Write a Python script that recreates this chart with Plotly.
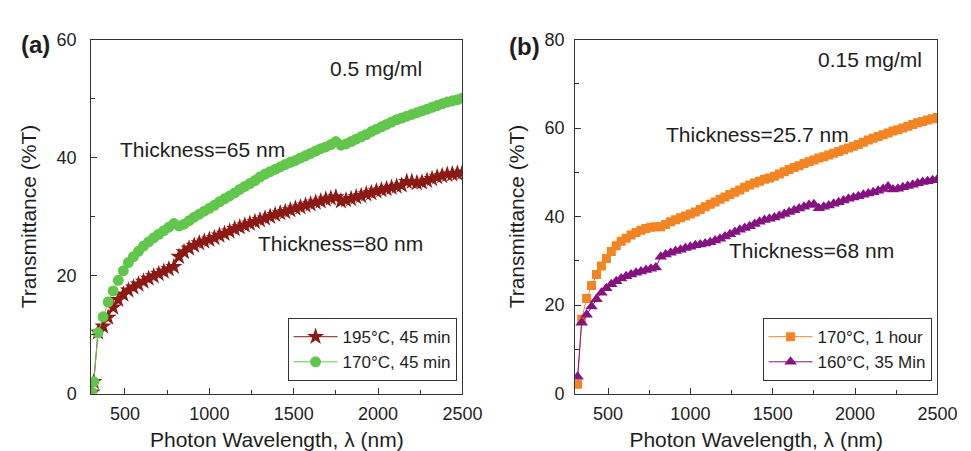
import plotly.graph_objects as go

# ---------------- data ----------------
wl_a = [305, 315, 340, 370, 400, 430, 460, 490, 520, 550,
        580, 610, 640, 670, 700, 730, 760, 790, 820, 850,
        880, 910, 940, 970, 1000, 1030, 1060, 1090, 1120, 1150,
        1180, 1210, 1240, 1270, 1300, 1330, 1360, 1390, 1420, 1450,
        1480, 1510, 1540, 1570, 1600, 1630, 1660, 1690, 1720, 1750,
        1780, 1810, 1840, 1870, 1900, 1930, 1960, 1990, 2020, 2050,
        2080, 2110, 2140, 2170, 2200, 2230, 2260, 2290, 2320, 2350,
        2380, 2410, 2440, 2470, 2500]
wl_b = wl_a[1:]

t_195_45 = [0.2, 2.0, 10.4, 11.4, 12.9, 14.6, 15.9, 16.8, 17.5, 18.0,
            18.5, 19.0, 19.5, 19.9, 20.3, 20.7, 21.1, 21.5, 23.2, 24.0,
            24.6, 25.1, 25.5, 25.8, 26.1, 26.4, 26.8, 27.1, 27.5, 27.9,
            28.2, 28.5, 28.8, 29.1, 29.4, 29.7, 30.0, 30.3, 30.6, 30.8,
            31.1, 31.4, 31.6, 31.9, 32.1, 32.4, 32.6, 32.9, 33.1, 33.3,
            32.6, 32.8, 33.0, 33.3, 33.5, 33.8, 34.0, 34.3, 34.5, 34.7,
            34.9, 35.1, 35.3, 35.9, 35.9, 35.7, 35.8, 36.1, 36.4, 36.7,
            36.9, 37.1, 37.2, 37.3, 37.5]

t_170_45 = [0.2, 2.0, 10.3, 13.0, 15.5, 17.4, 19.2, 20.8, 22.2, 23.2,
            24.1, 25.0, 25.7, 26.4, 27.0, 27.6, 28.2, 28.8, 28.4, 28.7,
            29.3, 29.9, 30.4, 30.9, 31.4, 31.9, 32.5, 33.0, 33.5, 34.0,
            34.6, 35.1, 35.6, 36.1, 36.7, 37.2, 37.6, 38.0, 38.4, 38.8,
            39.2, 39.5, 39.9, 40.3, 40.7, 41.1, 41.5, 41.8, 42.2, 42.7,
            42.1, 42.3, 42.7, 43.1, 43.5, 43.9, 44.4, 44.8, 45.2, 45.6,
            46.0, 46.4, 46.7, 47.0, 47.3, 47.6, 47.9, 48.2, 48.5, 48.8,
            49.1, 49.4, 49.6, 49.8, 50.1]

t_170_1h = [2.1, 16.8, 21.5, 24.4, 26.9, 28.8, 30.5, 32.1, 33.4,
            34.4, 35.1, 35.8, 36.4, 36.9, 37.3, 37.6, 37.7, 37.7, 38.2,
            38.8, 39.3, 39.7, 40.1, 40.6, 41.0, 41.6, 42.2, 42.8, 43.3,
            43.9, 44.4, 45.0, 45.5, 46.0, 46.6, 47.1, 47.6, 48.0, 48.4,
            48.7, 49.1, 49.6, 50.1, 50.6, 51.1, 51.5, 52.0, 52.4, 52.8,
            53.2, 53.5, 53.9, 54.3, 54.7, 55.1, 55.5, 55.9, 56.3, 56.8,
            57.3, 57.7, 58.1, 58.5, 58.9, 59.3, 59.6, 60.0, 60.4, 60.8,
            61.2, 61.5, 61.8, 62.1, 62.4]

t_160_35 = [3.8, 16.0, 17.8, 19.7, 21.3, 22.8, 23.8, 24.7, 25.4,
            26.0, 26.5, 26.9, 27.3, 27.6, 27.9, 28.2, 28.5, 30.9, 31.4,
            31.8, 32.2, 32.5, 32.9, 33.2, 33.5, 33.7, 33.9, 34.2, 34.6,
            35.0, 35.5, 36.0, 36.5, 37.0, 37.4, 37.8, 38.3, 38.8, 39.2,
            39.5, 39.8, 40.2, 40.6, 41.0, 41.4, 41.8, 42.2, 42.6, 42.8,
            41.9, 42.2, 42.5, 42.9, 43.2, 43.6, 44.0, 44.3, 44.6, 44.9,
            45.2, 45.5, 45.8, 46.2, 46.8, 46.1, 46.3, 46.6, 46.9, 47.2,
            47.5, 47.8, 48.0, 48.2, 48.4]

x_ticks = [500, 1000, 1500, 2000, 2500]

# ---------------- styling ----------------
FONT = "Liberation Sans, Arial, sans-serif"
TXT = "#1e1e1e"
AX = "#333333"
RED = "#8B1A14"
GREEN = "#62C64C"
ORANGE = "#F28424"
PURPLE = "#84137F"

fig = go.Figure()

fig.add_trace(go.Scatter(x=wl_a, y=t_195_45, mode="lines+markers", name="195°C, 45 min",
                         line=dict(color=RED, width=1),
                         marker=dict(symbol="star", size=13, color=RED),
                         xaxis="x", yaxis="y", legend="legend"))
fig.add_trace(go.Scatter(x=wl_a, y=t_170_45, mode="lines+markers", name="170°C, 45 min",
                         line=dict(color=GREEN, width=1),
                         marker=dict(symbol="circle", size=11, color=GREEN),
                         xaxis="x", yaxis="y", legend="legend"))
fig.add_trace(go.Scatter(x=wl_b, y=t_170_1h, mode="lines+markers", name="170°C, 1 hour",
                         line=dict(color=ORANGE, width=1),
                         marker=dict(symbol="square", size=9, color=ORANGE),
                         xaxis="x2", yaxis="y2", legend="legend2"))
fig.add_trace(go.Scatter(x=wl_b, y=t_160_35, mode="lines+markers", name="160°C, 35 Min",
                         line=dict(color=PURPLE, width=1),
                         marker=dict(symbol="triangle-up", size=11, color=PURPLE),
                         xaxis="x2", yaxis="y2", legend="legend2"))

W, H = 971, 451

def px_x(p):
    return p / W

def px_y(p):
    return (H - p) / H

xa = dict(range=[300, 2500], tickvals=x_ticks, ticks="inside", ticklen=6, tickcolor=AX,
          showline=True, linecolor=AX, linewidth=1, mirror=True, showgrid=False, zeroline=False,
          tickfont=dict(size=18, color=TXT, family=FONT),
          title=dict(text="Photon Wavelength, λ (nm)", font=dict(size=21, color=TXT, family=FONT), standoff=9),
          minor=dict(dtick=250, tick0=0, ticks="inside", ticklen=4, tickcolor=AX, showgrid=False),
          ticklabelstandoff=4)
ya = dict(ticks="inside", ticklen=6, tickcolor=AX, dtick=20,
          showline=True, linecolor=AX, linewidth=1, mirror=True, showgrid=False, zeroline=False,
          tickfont=dict(size=18, color=TXT, family=FONT),
          title=dict(text="Transmittance (%T)", font=dict(size=21, color=TXT, family=FONT), standoff=14),
          minor=dict(dtick=10, ticks="inside", ticklen=4, tickcolor=AX, showgrid=False),
          ticklabelstandoff=10)
ya2 = dict(ya, ticklabelstandoff=6)

ydom = [px_y(393), px_y(22.5)]

leg = dict(yanchor="bottom", xanchor="right", bordercolor=AX, borderwidth=1, bgcolor="white",
           font=dict(size=17, color=TXT, family=FONT), tracegroupgap=0, itemwidth=44)

fig.update_layout(
    width=W, height=H,
    margin=dict(l=0, r=0, t=0, b=0),
    paper_bgcolor="white", plot_bgcolor="white",
    font=dict(family=FONT, color=TXT),
    xaxis=dict(xa, domain=[px_x(85), px_x(464)], anchor="y"),
    yaxis=dict(ya, range=[0, 60], domain=ydom, anchor="x"),
    xaxis2=dict(xa, domain=[px_x(579), px_x(949)], anchor="y2"),
    yaxis2=dict(ya2, range=[0, 80], domain=ydom, anchor="x2"),
    legend=dict(leg, x=px_x(458), y=px_y(380)),
    legend2=dict(leg, x=px_x(943), y=px_y(380)),
    showlegend=True,
)

def ann(text, x, y, size=20, bold=False):
    fig.add_annotation(text=("<b>%s</b>" % text) if bold else text,
                       x=px_x(x), y=px_y(y), xref="paper", yref="paper",
                       showarrow=False, xanchor="center", yanchor="middle",
                       font=dict(size=size, color=TXT, family=FONT))

ann("(a)", 28, 28, size=24, bold=True)
ann("(b)", 527, 30, size=24, bold=True)
ann("0.5 mg/ml", 376, 53, size=21)
ann("Thickness=65 nm", 199, 138, size=21)
ann("Thickness=80 nm", 340, 236, size=21)
ann("0.15 mg/ml", 880, 43, size=21)
ann("Thickness=25.7 nm", 765, 122, size=21)
ann("Thickness=68 nm", 820, 243, size=21)

fig.write_html("out.html")
